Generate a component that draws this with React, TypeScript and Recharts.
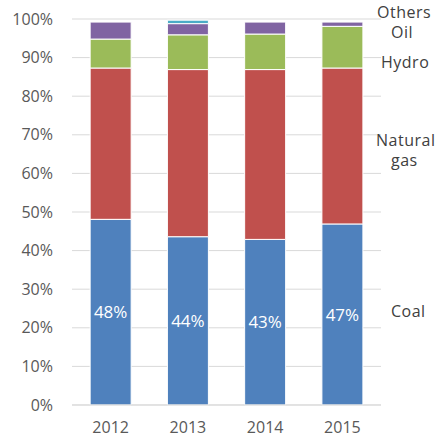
import { BarChart, Bar, XAxis, YAxis, CartesianGrid, LabelList } from 'recharts';

const years = ['2012', '2013', '2014', '2015'];
const coal = [48.1, 43.6, 42.9, 46.9];
const gas = [39.2, 43.3, 44.0, 40.4];
const hydro = [7.5, 9.0, 9.2, 10.8];
const oil = [4.4, 2.9, 3.1, 1.1];
const others = [0, 0.9, 0, 0];
const yTicks = [0, 10, 20, 30, 40, 50, 60, 70, 80, 90, 100];

const data = years.map((year, i) => ({
  year,
  coal: coal[i],
  gas: gas[i],
  hydro: hydro[i],
  oil: oil[i],
  others: others[i],
}));

const FONT = '"Open Sans", "Liberation Sans", sans-serif';
const AXIS_TICK = { fill: '#595959', fontSize: 16, fontFamily: FONT };

const sideLabels = [
  { text: 'Others', left: 377, top: 3 },
  { text: 'Oil', left: 391, top: 23 },
  { text: 'Hydro', left: 381, top: 53 },
  { text: 'Natural', left: 376, top: 131 },
  { text: 'gas', left: 391, top: 151 },
  { text: 'Coal', left: 391, top: 302 },
];

export default function App() {
  return (
    <div style={{ position: 'absolute', left: 0, top: 0, width: 442, height: 444, background: '#fff' }}>
      <BarChart
        width={442}
        height={444}
        data={data}
        margin={{ top: 19, right: 61, bottom: 0, left: 0 }}
        barCategoryGap="23.5%"
      >
        <CartesianGrid vertical={false} stroke="#d9d9d9" />
        <XAxis
          dataKey="year"
          height={39}
          stroke="#d9d9d9"
          tickLine={false}
          tickSize={0}
          tickMargin={17}
          tick={AXIS_TICK}
        />
        <YAxis
          width={72}
          domain={[0, 100]}
          ticks={yTicks}
          axisLine={false}
          tickLine={false}
          tickSize={0}
          tickMargin={19}
          tickFormatter={(v: number) => `${v}%`}
          tick={AXIS_TICK}
        />
        <Bar dataKey="coal" stackId="a" fill="#4F81BD" stroke="#fff" strokeWidth={1} isAnimationActive={false}>
          <LabelList
            dataKey="coal"
            position="center"
            fill="#fff"
            fontSize={17}
            fontFamily={FONT}
            formatter={(v: number) => `${Math.round(v)}%`}
          />
        </Bar>
        <Bar dataKey="gas" stackId="a" fill="#C0504D" stroke="#fff" strokeWidth={1} isAnimationActive={false} />
        <Bar dataKey="hydro" stackId="a" fill="#9BBB59" stroke="#fff" strokeWidth={1} isAnimationActive={false} />
        <Bar dataKey="oil" stackId="a" fill="#8064A2" stroke="#fff" strokeWidth={1} isAnimationActive={false} />
        <Bar dataKey="others" stackId="a" fill="#4BACC6" stroke="#fff" strokeWidth={1} isAnimationActive={false} />
      </BarChart>
      {sideLabels.map((l) => (
        <div
          key={l.text}
          style={{
            position: 'absolute',
            left: l.left,
            top: l.top,
            fontFamily: FONT,
            fontSize: 16,
            letterSpacing: 0.5,
            color: '#404040',
            lineHeight: '18px',
          }}
        >
          {l.text}
        </div>
      ))}
    </div>
  );
}
